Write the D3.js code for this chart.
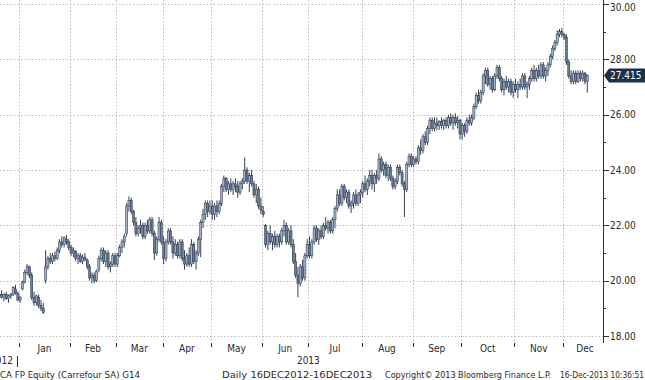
<!DOCTYPE html>
<html><head><meta charset="utf-8">
<script src="https://cdn.jsdelivr.net/npm/d3@7"></script>
<style>
html,body{margin:0;padding:0;background:#fff;overflow:hidden}
svg{display:block}
text{font-family:"DejaVu Sans Condensed","Liberation Sans Narrow","DejaVu Sans",sans-serif;font-size:10px;fill:#2a2a2a}
</style></head>
<body>
<script>
// Daily OHLC, Carrefour SA (CA FP), 17 Dec 2012 - 16 Dec 2013 — [open, high, low, close]
const dec12 = [[19.45,19.6,19.3,19.5],[19.5,19.65,19.35,19.4],[19.4,19.55,19.25,19.5],[19.5,19.6,19.3,19.35],[19.35,19.5,19.2,19.45],[19.45,19.55,19.35,19.5],[19.5,19.8,19.45,19.75],[19.7,19.85,19.5,19.55],[19.55,19.6,19.25,19.3]];
const jan13 = [[19.3,19.45,19.2,19.4],[19.7,20.0,19.65,19.95],[19.95,20.4,19.9,20.3],[20.3,20.6,20.2,20.5],[20.5,20.55,20.1,20.2],[20.2,20.3,19.3,19.4],[19.4,19.6,19.1,19.2],[19.2,19.5,19.1,19.45],[19.4,19.5,19.0,19.1],[19.1,19.3,18.9,19.0],[19.0,19.2,18.8,18.85],[20.0,21.1,19.9,20.5],[20.5,20.9,20.4,20.8],[20.8,21.0,20.6,20.7],[20.7,21.0,20.6,20.9],[20.9,21.05,20.7,20.8],[20.8,21.2,20.75,21.1],[21.1,21.5,21.0,21.4],[21.4,21.6,21.2,21.3],[21.3,21.6,21.2,21.55],[21.5,21.65,21.3,21.4],[21.4,21.5,21.1,21.2]];
const feb13 = [[21.2,21.3,20.9,21.0],[21.0,21.2,20.85,21.1],[21.05,21.1,20.7,20.8],[20.8,21.0,20.6,20.9],[20.9,21.0,20.65,20.7],[20.7,20.95,20.6,20.85],[20.85,21.0,20.7,20.75],[20.75,20.8,20.4,20.5],[20.5,20.6,20.0,20.1],[20.1,20.3,19.9,20.2],[20.2,20.3,19.9,20.0],[20.0,20.4,19.95,20.35],[20.4,20.9,20.3,20.8],[20.8,21.2,20.7,21.1],[21.1,21.2,20.6,20.7],[20.7,21.1,20.5,21.0],[21.0,21.1,20.4,20.5],[20.5,20.7,20.3,20.6],[20.6,21.0,20.5,20.9],[20.9,21.0,20.5,20.6]];
const mar13 = [[20.6,21.0,20.5,20.9],[20.9,21.3,20.85,21.2],[21.2,21.5,21.0,21.4],[21.4,21.7,21.2,21.6],[21.7,22.8,21.6,22.7],[22.7,23.05,22.5,22.9],[22.9,23.0,22.4,22.5],[22.5,22.55,22.0,22.1],[22.1,22.3,21.6,21.7],[21.7,22.0,21.6,21.9],[21.9,22.2,21.7,22.0],[22.0,22.1,21.5,21.6],[21.6,22.1,21.5,22.0],[22.0,22.2,21.7,21.8],[21.8,22.3,21.7,22.2],[22.2,22.3,21.6,21.7],[21.7,21.8,20.75,21.0],[21.0,21.6,20.9,21.5],[21.5,22.3,21.4,22.1],[22.1,22.2,21.3,21.4]];
const apr13 = [[21.4,21.6,20.6,20.8],[20.8,21.5,20.7,21.4],[21.4,21.9,21.3,21.8],[21.8,21.9,21.3,21.4],[21.4,21.6,20.8,21.0],[21.0,21.5,20.9,21.3],[21.3,21.4,20.8,20.9],[20.9,21.5,20.8,21.4],[21.4,21.5,20.7,20.8],[20.8,21.1,20.4,20.6],[20.6,21.0,20.5,20.9],[20.9,21.2,20.5,20.6],[20.6,21.5,20.5,21.3],[21.3,21.4,20.6,20.7],[20.7,21.1,20.4,21.0],[21.0,21.6,20.9,21.5],[21.5,22.2,20.85,22.1],[22.1,22.6,21.9,22.4],[22.4,22.9,22.2,22.8],[22.8,22.9,22.3,22.5],[22.5,22.9,22.4,22.7]];
const may13 = [[22.7,22.9,22.2,22.4],[22.4,22.8,22.2,22.7],[22.7,22.9,22.3,22.5],[22.5,22.9,22.4,22.8],[22.8,23.5,22.7,23.4],[23.4,23.8,23.2,23.7],[23.7,23.75,23.2,23.3],[23.3,23.6,23.1,23.5],[23.5,23.7,23.2,23.3],[23.3,23.6,23.1,23.5],[23.5,23.7,23.2,23.4],[23.4,23.6,23.0,23.2],[23.2,23.6,23.1,23.5],[23.5,23.7,23.3,23.6],[23.6,24.45,23.5,24.0],[24.0,24.1,23.5,23.6],[23.6,23.9,23.2,23.8],[23.8,24.0,23.4,23.5],[23.5,23.6,23.0,23.1],[23.1,23.5,22.8,23.3],[23.3,23.4,22.6,22.7],[22.7,23.0,22.4,22.55]];
const jun13 = [[22.5,22.7,22.3,22.4],[22.0,22.05,21.2,21.3],[21.3,21.8,21.1,21.7],[21.7,22.0,21.3,21.4],[21.4,21.7,21.1,21.6],[21.6,21.8,21.2,21.3],[21.3,21.7,21.2,21.6],[21.6,21.7,21.2,21.4],[21.4,21.9,21.3,21.8],[21.8,22.2,21.6,22.0],[22.0,22.1,21.3,21.4],[21.4,21.9,21.3,21.8],[21.8,22.0,21.2,21.3],[21.3,21.5,20.6,20.7],[20.7,21.0,20.1,20.2],[20.2,20.5,19.4,19.9],[19.9,20.6,19.8,20.5],[20.5,20.75,20.0,20.1],[20.1,21.0,20.0,20.9],[20.9,21.5,20.8,21.3]];
const jul13 = [[21.3,21.6,20.8,20.9],[20.9,21.5,20.8,21.4],[21.4,22.0,21.3,21.9],[21.9,22.0,21.4,21.5],[21.5,21.9,21.3,21.8],[21.8,22.0,21.5,21.6],[21.6,22.1,21.5,22.0],[22.0,22.3,21.8,21.9],[21.9,22.2,21.7,22.1],[22.1,22.2,21.7,21.8],[21.8,22.3,21.7,22.2],[22.2,22.7,21.9,22.6],[22.6,23.3,22.5,23.1],[23.1,23.3,22.7,22.8],[22.8,23.5,22.7,23.4],[23.4,23.5,22.9,23.0],[23.0,23.3,22.8,23.2],[23.2,23.3,22.6,22.7],[22.7,22.9,22.45,22.8],[22.8,23.2,22.6,23.1],[23.1,23.3,22.7,22.8],[22.8,23.2,22.7,23.1],[23.1,23.3,22.8,23.2]];
const aug13 = [[23.2,23.6,23.0,23.5],[23.5,23.8,23.2,23.3],[23.3,23.7,23.1,23.6],[23.6,24.0,23.4,23.8],[23.8,24.0,23.3,23.5],[23.5,23.9,23.2,23.8],[23.8,24.0,23.5,23.7],[23.7,24.6,23.6,24.4],[24.4,24.5,23.9,24.0],[24.0,24.3,23.8,24.2],[24.2,24.3,23.7,23.8],[23.8,24.2,23.6,24.1],[24.1,24.2,23.6,23.7],[23.7,23.8,23.3,23.4],[23.4,23.7,23.3,23.6],[23.6,24.2,23.5,24.1],[24.1,24.2,23.8,23.9],[23.9,24.0,23.4,23.5],[23.5,23.6,22.3,23.3],[23.3,24.3,23.2,24.2],[24.2,24.6,24.1,24.5],[24.5,24.6,24.1,24.2]];
const sep13 = [[24.2,24.5,24.1,24.4],[24.4,24.5,24.2,24.3],[24.3,24.9,24.2,24.8],[24.8,25.1,24.55,24.7],[24.7,25.3,24.6,25.2],[25.2,25.4,24.9,25.0],[25.0,25.6,24.9,25.5],[25.5,25.9,25.3,25.8],[25.8,25.9,25.4,25.5],[25.5,25.9,25.4,25.7],[25.7,25.9,25.45,25.6],[25.6,25.8,25.45,25.75],[25.75,25.9,25.5,25.6],[25.6,25.85,25.45,25.8],[25.8,25.9,25.5,25.6],[25.6,26.0,25.5,25.9],[25.9,26.05,25.6,25.7],[25.7,26.0,25.45,25.9],[25.9,26.05,25.6,25.7],[25.7,25.95,25.5,25.8],[25.8,25.85,25.1,25.3]];
const oct13 = [[25.3,25.7,25.1,25.6],[25.6,25.7,25.2,25.4],[25.4,25.9,25.3,25.8],[25.8,26.0,25.6,25.7],[25.7,26.0,25.6,25.9],[25.9,26.4,25.8,26.3],[26.3,26.8,26.2,26.7],[26.7,26.9,26.4,26.5],[26.5,26.9,26.4,26.8],[26.8,27.5,26.7,27.4],[27.4,27.7,27.1,27.6],[27.6,27.7,27.0,27.1],[27.1,27.4,26.9,27.3],[27.3,27.4,26.8,26.9],[26.9,27.5,26.85,27.4],[27.4,27.8,27.3,27.7],[27.7,27.8,27.2,27.3],[27.3,27.4,26.8,26.9],[26.9,27.3,26.7,27.2],[27.2,27.4,26.9,27.0],[27.0,27.3,26.8,27.2],[27.2,27.3,26.7,26.8],[26.8,27.2,26.6,27.1]];
const nov13 = [[27.1,27.3,26.8,26.9],[26.9,27.2,26.6,27.1],[27.1,27.3,26.9,27.0],[27.0,27.5,26.9,27.4],[27.4,27.5,26.9,27.0],[27.0,27.2,26.6,27.1],[27.1,27.4,26.9,27.3],[27.3,27.7,27.2,27.6],[27.6,27.8,27.2,27.3],[27.3,27.7,27.2,27.6],[27.6,27.8,27.3,27.4],[27.4,27.9,27.3,27.8],[27.8,27.9,27.3,27.4],[27.4,27.7,27.2,27.6],[27.6,27.9,27.4,27.8],[27.8,28.2,27.7,28.1],[28.1,28.5,28.0,28.4],[28.4,28.7,28.3,28.6],[28.6,29.05,28.5,28.9],[28.9,29.1,28.8,29.0],[29.0,29.13,28.8,28.9]];
const dec13 = [[28.9,28.95,28.7,28.8],[28.8,28.9,27.8,27.9],[27.9,28.0,27.3,27.4],[27.4,27.6,27.1,27.2],[27.2,27.6,27.1,27.5],[27.5,27.6,27.1,27.2],[27.2,27.6,27.15,27.5],[27.5,27.6,27.2,27.3],[27.3,27.6,27.2,27.5],[27.5,27.55,27.1,27.2],[27.2,27.45,26.8,27.415]];

const monthNames = ["Jan","Feb","Mar","Apr","May","Jun","Jul","Aug","Sep","Oct","Nov","Dec"];
const yTicks = [18,20,22,24,26,28,30];
const yMinorTicks = [19,21,23,25,27,29];
const lastPrice = 27.415;
const footer = ["CA FP Equity (Carrefour SA) G14","Daily 16DEC2012-16DEC2013","Copyright\u00A9 2013 Bloomberg Finance L.P.","16-Dec-2013 10:36:51"];
const yearLabels = ["2012","2013"];

const months = [dec12,jan13,feb13,mar13,apr13,may13,jun13,jul13,aug13,sep13,oct13,nov13,dec13];
const data = [];
months.forEach(m => m.forEach(d => data.push({o:d[0],h:d[1],l:d[2],c:d[3]})));
data.forEach((d,i)=>d.i=i);
const n = data.length;

const W = 645, H = 380;
const svg = d3.select("body").append("svg").attr("width",W).attr("height",H);

const x = d3.scaleLinear().domain([0, n-1]).range([-0.7, -0.7 + (n-1)*2.315]);
const y = d3.scaleLinear().domain([18,30]).range([336,4]);
const axisX = 603, bottom = 343;

// month boundaries
const starts = [];
let acc = 0;
months.forEach(m => { starts.push(acc); acc += m.length; });
const boundaries = starts.slice(1).map(s => s - 0.5);

// grid
const grid = svg.append("g").attr("stroke","#bdbdbd").attr("stroke-width",1).attr("stroke-dasharray","1.5,2");
grid.selectAll("line.h").data(yTicks).join("line")
  .attr("x1",0).attr("x2",axisX).attr("y1",d=>Math.round(y(d))+0.5).attr("y2",d=>Math.round(y(d))+0.5);
grid.selectAll("line.v").data(boundaries).join("line")
  .attr("x1",d=>Math.round(x(d))+0.5).attr("x2",d=>Math.round(x(d))+0.5).attr("y1",0).attr("y2",bottom);

// candles
const cw = 2.1;
const cg = svg.append("g");
cg.selectAll("line").data(data).join("line")
  .attr("x1",d=>x(d.i)).attr("x2",d=>x(d.i))
  .attr("y1",d=>y(d.h)).attr("y2",d=>y(d.l))
  .attr("stroke","#1e2b3f").attr("stroke-width",0.9);
cg.selectAll("rect").data(data).join("rect")
  .attr("x",d=>x(d.i)-cw/2).attr("width",cw)
  .attr("y",d=>y(Math.max(d.o,d.c)))
  .attr("height",d=>Math.max(1,Math.abs(y(d.o)-y(d.c))))
  .attr("fill",d=>d.c>=d.o?"#a3b1c3":"#6a7c94")
  .attr("stroke","#23324a").attr("stroke-width",0.5);

// right axis
svg.append("line").attr("x1",axisX+0.5).attr("x2",axisX+0.5).attr("y1",0).attr("y2",bottom).attr("stroke","#333").attr("stroke-width",1);
svg.selectAll("line.yt").data(yTicks).join("line")
  .attr("x1",axisX).attr("x2",axisX+6).attr("y1",d=>Math.round(y(d))+0.5).attr("y2",d=>Math.round(y(d))+0.5)
  .attr("stroke","#333");
svg.selectAll("line.ym").data(yMinorTicks).join("line")
  .attr("x1",axisX).attr("x2",axisX+3).attr("y1",d=>Math.round(y(d))+0.5).attr("y2",d=>Math.round(y(d))+0.5)
  .attr("stroke","#333");
svg.selectAll("text.yl").data(yTicks).join("text")
  .attr("x",axisX+7).attr("y",d=>Math.max(y(d),7)).attr("dy","0.35em")
  .text(d=>d3.format(".2f")(d));

// last price tag
const ly = y(lastPrice);
svg.append("path")
  .attr("d",`M${axisX+1},${ly} L${axisX+6},${ly-7} L${W},${ly-7} L${W},${ly+7} L${axisX+6},${ly+7} Z`)
  .attr("fill","#1d3047");
svg.append("text").attr("x",axisX+7).attr("y",ly).attr("dy","0.35em").style("fill","#fff").text(d3.format(".3f")(lastPrice));

// x axis ticks & labels
svg.selectAll("line.xt").data(boundaries).join("line")
  .attr("x1",d=>Math.round(x(d))+0.5).attr("x2",d=>Math.round(x(d))+0.5).attr("y1",bottom).attr("y2",bottom+4)
  .attr("stroke","#333");
const fullLen = months.map(m=>m.length); fullLen[12] = 19;
svg.selectAll("text.m").data(monthNames).join("text")
  .attr("x",(d,k)=>x(starts[k+1] + fullLen[k+1]/2 - 0.5))
  .attr("y",352).attr("text-anchor","middle").text(d=>d);
svg.append("text").attr("x",13).attr("y",364).attr("text-anchor","end").text(yearLabels[0]);
svg.append("line").attr("x1",17.5).attr("x2",17.5).attr("y1",356).attr("y2",367).attr("stroke","#333");
svg.append("text").attr("x",x(starts[7]-0.5)).attr("y",364).attr("text-anchor","middle").text(yearLabels[1]);

// footer
const fx = [[0,140],[222,150],[385,166],[560,84]];
svg.selectAll("text.f").data(footer).join("text")
  .attr("x",(d,k)=>fx[k][0]).attr("y",378).style("font-size","9px")
  .attr("textLength",(d,k)=>fx[k][1]).attr("lengthAdjust","spacingAndGlyphs")
  .text(d=>d);
</script>
</body></html>
